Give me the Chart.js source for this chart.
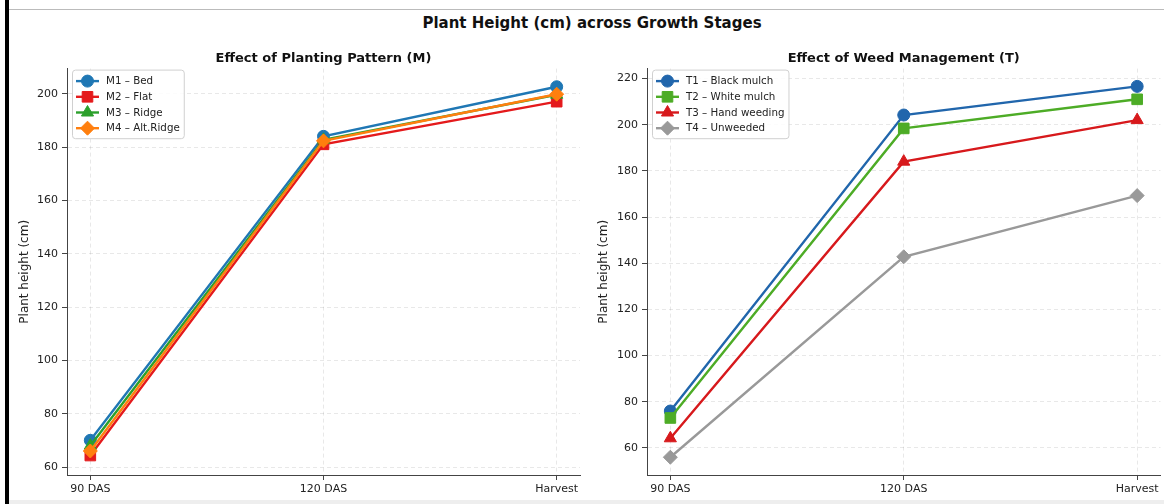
<!DOCTYPE html>
<html lang="en">
<head>
<meta charset="utf-8">
<script src="https://cdn.jsdelivr.net/npm/chart.js"></script>
<title>Plant Height (cm) across Growth Stages</title>
<style>
  body { margin: 0; background: #fff; font-family: "DejaVu Sans", sans-serif; }
  #page { position: relative; width: 1164px; height: 504px; overflow: hidden; }
  #bar { position: absolute; left: 5px; top: 0; width: 4px; height: 504px; background: #000; }
  #topline { position: absolute; left: 9px; top: 9px; right: 0; height: 1px; background: #bbb; }
  #bottomline { position: absolute; left: 9px; top: 500px; right: 0; height: 4px; background: #eee; }
  #mainTitle { position: absolute; left: 10px; width: 1164px; top: 14px; text-align: center;
    font-weight: bold; font-size: 15px; color: #111; }
  .box { position: absolute; top: 40px; height: 464px; }
</style>
</head>
<body>
<div id="page">
  <div id="bar"></div>
  <div id="topline"></div>
  <div id="bottomline"></div>
  <div id="mainTitle">Plant Height (cm) across Growth Stages</div>
  <div class="box" style="left:10px; width:580px;"><canvas id="leftChart"></canvas></div>
  <div class="box" style="left:590px; width:579px;"><canvas id="rightChart"></canvas></div>
</div>

<script>
  // growth stages (x axis)
  const stages = ['90 DAS', '120 DAS', 'Harvest'];

  // planting pattern
  const mNames = ['M1 – Bed', 'M2 – Flat', 'M3 – Ridge', 'M4 – Alt.Ridge'];
  const m1 = [70.0, 184.0, 202.6];
  const m2 = [64.3, 181.0, 197.0];
  const m3 = [68.0, 182.7, 199.6];
  const m4 = [66.0, 182.3, 199.8];

  // weed management
  const tNames = ['T1 – Black mulch', 'T2 – White mulch', 'T3 – Hand weeding', 'T4 – Unweeded'];
  const t1 = [76.0, 204.2, 216.6];
  const t2 = [73.0, 198.4, 211.0];
  const t3 = [64.2, 184.0, 202.0];
  const t4 = [56.0, 142.8, 169.3];

  const leftTicks = [60, 80, 100, 120, 140, 160, 180, 200];
  const rightTicks = [60, 80, 100, 120, 140, 160, 180, 200, 220];

  const FONT = '"DejaVu Sans", sans-serif';
  const styles = ['circle', 'rect', 'triangle', 'rectRot'];
  const radii = [6, 7.5, 7, 7];

  function drawMarker(ctx, style, r, x, y) {
    ctx.beginPath();
    if (style === 'circle') {
      ctx.arc(x, y, r, 0, Math.PI * 2);
    } else if (style === 'rect') {
      const s = r * Math.SQRT1_2;
      ctx.rect(x - s, y - s, 2 * s, 2 * s);
    } else if (style === 'triangle') {
      ctx.moveTo(x, y - r);
      ctx.lineTo(x + r * 0.866, y + r * 0.5);
      ctx.lineTo(x - r * 0.866, y + r * 0.5);
      ctx.closePath();
    } else {
      ctx.moveTo(x, y - r);
      ctx.lineTo(x + r, y);
      ctx.lineTo(x, y + r);
      ctx.lineTo(x - r, y);
      ctx.closePath();
    }
    ctx.fill();
    ctx.stroke();
  }

  // legend drawn inside the plot, line + marker like matplotlib
  const insideLegend = {
    id: 'insideLegend',
    afterDatasetsDraw(chart) {
      const ctx = chart.ctx, area = chart.chartArea;
      const sets = chart.data.datasets;
      ctx.save();
      ctx.font = '10.3px ' + FONT;
      let maxW = 0;
      sets.forEach(d => { maxW = Math.max(maxW, ctx.measureText(d.label).width); });
      const x = area.left + 5, y = area.top + 1;
      const rowH = 15.7;
      const w = maxW + 38, h = 11.5 + (sets.length - 1) * rowH + 10;
      ctx.fillStyle = 'rgba(255,255,255,0.85)';
      ctx.strokeStyle = '#d0d0d0';
      ctx.lineWidth = 1;
      ctx.beginPath();
      ctx.roundRect(x + 0.5, y + 0.5, w, h, 3);
      ctx.fill();
      ctx.stroke();
      sets.forEach((d, i) => {
        const ry = y + 11.5 + i * rowH;
        ctx.strokeStyle = d.borderColor;
        ctx.lineWidth = 2.4;
        ctx.beginPath();
        ctx.moveTo(x + 4, ry);
        ctx.lineTo(x + 27, ry);
        ctx.stroke();
        ctx.fillStyle = d.borderColor;
        ctx.lineWidth = 1;
        drawMarker(ctx, d.pointStyle, d.pointRadius, x + 15.5, ry);
        ctx.fillStyle = '#222';
        ctx.textBaseline = 'middle';
        ctx.textAlign = 'left';
        ctx.fillText(d.label, x + 34, ry + 0.5);
      });
      ctx.restore();
    }
  };

  function makeChart(id, title, names, series, colors, yMin, yMax, yTicks, padRight, yTitlePad) {
    const datasets = series.map((vals, i) => ({
      label: names[i],
      data: vals.map((v, k) => ({ x: k, y: v })),
      borderColor: colors[i],
      backgroundColor: colors[i],
      borderWidth: 2.4,
      pointStyle: styles[i],
      pointRadius: radii[i],
      pointBorderWidth: 1,
      pointBorderColor: colors[i],
      pointBackgroundColor: colors[i],
      tension: 0,
      order: series.length - i
    }));
    return new Chart(document.getElementById(id), {
      type: 'line',
      data: { datasets: datasets },
      options: {
        responsive: true,
        maintainAspectRatio: false,
        animation: false,
        layout: { padding: { left: 0, right: padRight, top: 0, bottom: 0 } },
        plugins: {
          legend: { display: false },
          tooltip: { enabled: false },
          title: {
            display: true,
            text: title,
            fullSize: false,
            color: '#111',
            font: { family: FONT, size: 13, weight: 'bold', lineHeight: 1.2 },
            padding: { top: 11, bottom: 2 }
          }
        },
        scales: {
          x: {
            type: 'linear',
            min: -0.1,
            max: 2.1,
            afterBuildTicks: s => { s.ticks = stages.map((_, k) => ({ value: k })); },
            afterFit: s => { s.height = 29; },
            ticks: {
              callback: v => stages[v],
              color: '#222',
              font: { family: FONT, size: 11 },
              padding: 3,
              maxRotation: 0
            },
            grid: { color: 'rgba(0,0,0,0.09)', tickColor: '#444', tickLength: 5, tickBorderDash: [] },
            border: { display: true, color: '#444', width: 1, dash: [4, 3] }
          },
          y: {
            min: yMin,
            max: yMax,
            afterBuildTicks: s => { s.ticks = yTicks.map(v => ({ value: v })); },
            afterFit: s => { s.width = 57; },
            ticks: {
              color: '#222',
              font: { family: FONT, size: 11 },
              padding: 4
            },
            title: {
              display: true,
              text: 'Plant height (cm)',
              color: '#222',
              font: { family: FONT, size: 12 },
              padding: { top: yTitlePad, bottom: 0 }
            },
            grid: { color: 'rgba(0,0,0,0.09)', tickColor: '#444', tickLength: 5, tickBorderDash: [] },
            border: { display: true, color: '#444', width: 1, dash: [4, 3] }
          }
        }
      },
      plugins: [insideLegend]
    });
  }

  makeChart('leftChart', 'Effect of Planting Pattern (M)', mNames, [m1, m2, m3, m4],
    ['#1f77b4', '#e41a1c', '#2ca02c', '#ff7f0e'], 57, 209.4, leftTicks, 10, 8);
  makeChart('rightChart', 'Effect of Weed Management (T)', tNames, [t1, t2, t3, t4],
    ['#2166ac', '#4dac26', '#d7191c', '#999999'], 48.3, 224.3, rightTicks, 4, 7);
</script>
</body>
</html>
